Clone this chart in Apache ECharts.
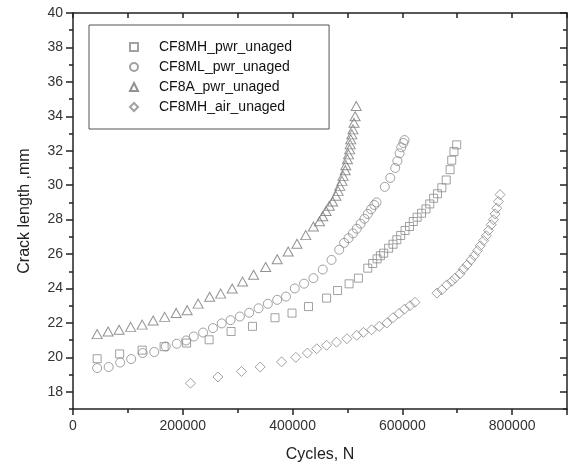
<!DOCTYPE html>
<html>
<head>
<meta charset="utf-8">
<script src="https://cdn.jsdelivr.net/npm/echarts@6/dist/echarts.min.js"></script>
<style>
  html, body { margin: 0; padding: 0; background: #fff; }
  #chart { width: 568px; height: 468px; }
</style>
</head>
<body>
<div id="chart"></div>
<script>
// series names as in the legend
const seriesNames = ['CF8MH_pwr_unaged', 'CF8ML_pwr_unaged', 'CF8A_pwr_unaged', 'CF8MH_air_unaged'];

// [cycles, crack length mm]
const cf8mhPwr = [
  [44000, 19.92], [85000, 20.2], [126000, 20.42], [166000, 20.62], [207000, 20.83],
  [248000, 21.02], [288000, 21.5], [327000, 21.8], [368000, 22.3], [399000, 22.57],
  [429000, 22.95], [462000, 23.44], [482000, 23.88], [503000, 24.27], [520000, 24.6],
  [537000, 25.18], [546000, 25.45], [554000, 25.72], [560000, 25.9], [566000, 26.05],
  [575000, 26.34], [583000, 26.57], [590000, 26.83], [597000, 27.08], [605000, 27.37],
  [613000, 27.6], [620000, 27.89], [627000, 28.14], [635000, 28.37], [643000, 28.62],
  [650000, 28.91], [657000, 29.24], [664000, 29.5], [672000, 29.85], [680000, 30.3],
  [687000, 30.9], [690000, 31.45], [694000, 31.95], [699000, 32.34]
];
const cf8mlPwr = [
  [44000, 19.38], [65000, 19.44], [86000, 19.7], [106000, 19.9], [127000, 20.25],
  [148000, 20.31], [169000, 20.63], [189000, 20.79], [206000, 20.98], [220000, 21.21],
  [237000, 21.44], [255000, 21.7], [271000, 21.97], [287000, 22.16], [304000, 22.37],
  [321000, 22.59], [338000, 22.85], [355000, 23.11], [372000, 23.34], [388000, 23.53],
  [404000, 24.0], [421000, 24.28], [438000, 24.6], [455000, 25.1], [471000, 25.66],
  [485000, 26.25], [494000, 26.65], [502000, 26.92], [510000, 27.2], [517000, 27.47],
  [524000, 27.76], [531000, 28.05], [537000, 28.33], [543000, 28.6], [549000, 28.85],
  [553000, 29.0], [568000, 29.9], [578000, 30.42], [587000, 31.0], [591000, 31.4],
  [595000, 31.85], [598000, 32.2], [602000, 32.45], [604000, 32.62]
];
const cf8aPwr = [
  [44000, 21.35], [64000, 21.5], [84000, 21.6], [105000, 21.77], [126000, 21.9],
  [146000, 22.14], [167000, 22.35], [188000, 22.58], [208000, 22.74], [228000, 23.12],
  [249000, 23.52], [269000, 23.7], [290000, 24.0], [309000, 24.4], [329000, 24.8],
  [351000, 25.25], [372000, 25.7], [392000, 26.15], [408000, 26.6], [424000, 27.1],
  [438000, 27.6], [449000, 27.9], [455000, 28.2], [461000, 28.5], [467000, 28.8],
  [473000, 29.05], [479000, 29.38], [483000, 29.67], [486000, 29.96], [490000, 30.25],
  [492000, 30.54], [496000, 30.87], [497000, 31.16], [500000, 31.5], [502000, 31.79],
  [504000, 32.08], [505000, 32.37], [506000, 32.66], [508000, 32.95], [510000, 33.24],
  [512000, 33.62], [514000, 34.0], [516000, 34.6]
];
const cf8mhAir = [
  [214000, 18.5], [264000, 18.86], [307000, 19.18], [341000, 19.44], [380000, 19.74],
  [406000, 20.0], [427000, 20.25], [444000, 20.5], [462000, 20.7], [480000, 20.88],
  [499000, 21.08], [517000, 21.28], [529000, 21.45], [544000, 21.6], [558000, 21.8],
  [572000, 22.0], [583000, 22.3], [594000, 22.55], [604000, 22.8], [614000, 23.0],
  [623000, 23.2],
  [663000, 23.73], [672000, 23.92], [681000, 24.21], [690000, 24.41], [696000, 24.6],
  [705000, 24.85], [711000, 25.12], [718000, 25.37], [725000, 25.66], [731000, 25.91],
  [737000, 26.2], [742000, 26.48], [748000, 26.78], [753000, 27.06], [757000, 27.37],
  [762000, 27.7], [766000, 27.99], [769000, 28.33], [772000, 28.66], [775000, 29.05],
  [778000, 29.45]
];

const majorY = [18, 20, 22, 24, 26, 28, 30, 32, 34, 36, 38, 40];

const chart = echarts.init(document.getElementById('chart'));

const axisColor = '#222';
const fontFamily = 'Liberation Sans, Arial, sans-serif';
const labelFont = { fontFamily: fontFamily, fontSize: 14, color: '#333' };

const hollow = (c) => ({ color: 'rgba(0,0,0,0)', borderColor: c, borderWidth: 1 });

const option = {
  animation: false,
  backgroundColor: '#fff',
  grid: { left: 73, right: 1, top: 13, bottom: 58 },
  legend: {
    orient: 'vertical',
    left: 89,
    top: 25,
    padding: [15, 37, 15, 40],
    itemWidth: 8,
    itemHeight: 8,
    itemGap: 6,
    borderColor: '#555',
    borderWidth: 1,
    textStyle: {
      fontFamily: fontFamily,
      fontSize: 14,
      color: '#111',
      padding: [0, 0, 0, 16]
    },
    data: seriesNames
  },
  xAxis: [
    {
      type: 'value',
      position: 'bottom',
      min: 0,
      max: 900000,
      interval: 200000,
      name: 'Cycles, N',
      nameLocation: 'middle',
      nameGap: 38,
      nameTextStyle: { fontFamily: fontFamily, fontSize: 16, color: '#222' },
      axisLine: { lineStyle: { color: axisColor, width: 1.5 } },
      axisTick: { length: 6, lineStyle: { color: axisColor, width: 1.5 } },
      minorTick: { show: true, splitNumber: 2, length: 4, lineStyle: { color: axisColor, width: 1.5 } },
      axisLabel: Object.assign({
        margin: 10,
        showMaxLabel: false,
        formatter: (v) => String(v)
      }, labelFont),
      splitLine: { show: false }
    },
    {
      type: 'value',
      position: 'top',
      min: 0,
      max: 900000,
      interval: 100000,
      axisLine: { lineStyle: { color: axisColor, width: 1.5 } },
      axisTick: { inside: true, length: 5, lineStyle: { color: axisColor, width: 1.5 } },
      axisLabel: { show: false },
      splitLine: { show: false }
    }
  ],
  yAxis: [
    {
      type: 'value',
      position: 'left',
      min: 17,
      max: 40,
      interval: 1,
      name: 'Crack length ,mm',
      nameLocation: 'middle',
      nameGap: 40,
      nameTextStyle: { fontFamily: fontFamily, fontSize: 16, color: '#222' },
      axisLine: { lineStyle: { color: axisColor, width: 1.5 } },
      axisTick: { length: 4, lineStyle: { color: axisColor, width: 1.5 } },
      axisLabel: Object.assign({
        margin: 10,
        formatter: (v) => (v % 2 === 0 ? String(v) : '')
      }, labelFont),
      splitLine: { show: false }
    },
    {
      type: 'value',
      position: 'left',
      min: 17,
      max: 40,
      axisLine: { show: false },
      axisTick: { length: 7, customValues: majorY, lineStyle: { color: axisColor, width: 1.5 } },
      axisLabel: { show: false },
      splitLine: { show: false }
    },
    {
      type: 'value',
      position: 'right',
      min: 17,
      max: 40,
      interval: 1,
      axisLine: { lineStyle: { color: axisColor, width: 1.5 } },
      axisTick: { inside: true, length: 4, lineStyle: { color: axisColor, width: 1.5 } },
      axisLabel: { show: false },
      splitLine: { show: false }
    },
    {
      type: 'value',
      position: 'right',
      min: 17,
      max: 40,
      axisLine: { show: false },
      axisTick: { inside: true, length: 7, customValues: majorY, lineStyle: { color: axisColor, width: 1.5 } },
      axisLabel: { show: false },
      splitLine: { show: false }
    }
  ],
  series: [
    { name: seriesNames[0], type: 'scatter', symbol: 'rect', symbolSize: 8, itemStyle: hollow('#8a8a8a'), data: cf8mhPwr },
    { name: seriesNames[1], type: 'scatter', symbol: 'circle', symbolSize: 9, itemStyle: hollow('#8a8a8a'), data: cf8mlPwr },
    { name: seriesNames[2], type: 'scatter', symbol: 'triangle', symbolSize: [10, 9], itemStyle: hollow('#777'), data: cf8aPwr },
    { name: seriesNames[3], type: 'scatter', symbol: 'diamond', symbolSize: 10, itemStyle: hollow('#8a8a8a'), data: cf8mhAir }
  ]
};

chart.setOption(option);
</script>
</body>
</html>
